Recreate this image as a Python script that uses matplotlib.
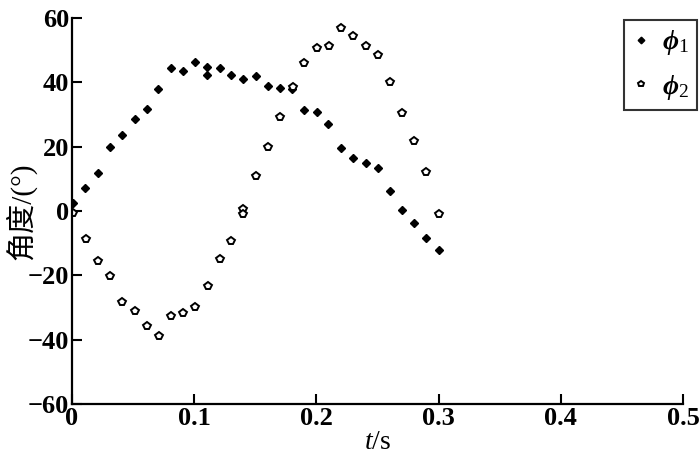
import matplotlib
matplotlib.use("Agg")
import matplotlib.pyplot as plt

plt.rcParams['font.family'] = ['Liberation Serif', 'Noto Sans CJK SC', 'DejaVu Sans']
plt.rcParams['mathtext.fontset'] = 'custom'
plt.rcParams['mathtext.rm'] = 'Liberation Serif'
plt.rcParams['mathtext.it'] = 'Liberation Serif:italic'
plt.rcParams['mathtext.bf'] = 'Liberation Serif:bold:italic'

# data
t1 = [0.0008, 0.0108, 0.0213, 0.0310, 0.0410, 0.0512, 0.0610, 0.0707, 0.0807, 0.0908,
      0.1009, 0.1107, 0.1107, 0.1210, 0.1302, 0.1400, 0.1506, 0.1607, 0.1703, 0.1803,
      0.1900, 0.2005, 0.2095, 0.2200, 0.2300, 0.2406, 0.2504, 0.2603, 0.2700, 0.2800,
      0.2900, 0.3003]
phi1 = [2.6, 7.0, 11.9, 20.0, 23.7, 28.6, 31.6, 38.0, 44.4, 43.6,
        46.2, 44.9, 42.3, 44.6, 42.4, 41.0, 42.0, 38.9, 38.3, 38.0,
        31.4, 30.8, 27.1, 19.6, 16.5, 14.9, 13.4, 6.2, 0.3, -3.7,
        -8.4, -12.1]

t2 = [0.0008, 0.0115, 0.0213, 0.0314, 0.0410, 0.0513, 0.0610, 0.0710, 0.0807, 0.0908,
      0.1009, 0.1110, 0.1210, 0.1302, 0.1400, 0.1400, 0.1506, 0.1607, 0.1703, 0.1806,
      0.1902, 0.2003, 0.2101, 0.2202, 0.2303, 0.2403, 0.2501, 0.2602, 0.2700, 0.2798,
      0.2897, 0.3001]
phi2 = [-0.7, -8.8, -15.6, -20.1, -28.4, -31.2, -35.7, -38.8, -32.5, -31.6,
        -29.9, -23.3, -15.0, -9.2, 0.5, -1.0, 10.8, 20.0, 29.3, 38.6,
        46.1, 50.6, 51.3, 56.8, 54.4, 51.4, 48.5, 40.1, 30.4, 21.7,
        12.1, -0.9]

xticks = [0, 0.1, 0.2, 0.3, 0.4, 0.5]
xticklabels = ['0', '0.1', '0.2', '0.3', '0.4', '0.5']
yticks = [-60, -40, -20, 0, 20, 40, 60]
yticklabels = ['\u221260', '\u221240', '\u221220', '0', '20', '40', '60']

fig = plt.figure(figsize=(7.0, 4.59), dpi=100)
ax = fig.add_axes([0.1029, 0.1198, 0.8728, 0.8410])

ax.plot(t1, phi1, linestyle='none', marker='D', markersize=4.2,
        color='black', markeredgecolor='black', label=r'$\mathbf{\phi}_{\mathrm{1}}$')
ax.plot(t2, phi2, linestyle='none', marker='p', markersize=5.5,
        markerfacecolor='white', markeredgecolor='black', markeredgewidth=1.4,
        label=r'$\mathbf{\phi}_{\mathrm{2}}$')

ax.set_xlim(0, 0.5)
ax.set_ylim(-60, 60)
ax.set_xticks(xticks)
ax.set_xticklabels(xticklabels, fontweight='bold')
ax.set_yticks(yticks)
ax.set_yticklabels(yticklabels, fontweight='bold')

for s in ['top', 'right']:
    ax.spines[s].set_visible(False)
for s in ['left', 'bottom']:
    ax.spines[s].set_linewidth(1.6)
    ax.spines[s].set_color('black')

ax.tick_params(direction='in', length=7, width=1.5, labelsize=19, pad=2, colors='black')
ax.set_xlabel(r'$\mathit{t}$/s', fontsize=20, labelpad=0)
ax.set_ylabel('角度/(°)', fontsize=21)
ax.yaxis.set_label_coords(-0.058, 0.5)

leg = ax.legend(loc='upper right', bbox_to_anchor=(697 / 700, 1 - 20 / 459),
                bbox_transform=fig.transFigure, borderaxespad=0, fontsize=20,
                frameon=True, fancybox=False, edgecolor='black', handlelength=0.6,
                handletextpad=0.45, borderpad=0.3, labelspacing=0.55, markerscale=0.8)
leg.get_frame().set_linewidth(1.5)

fig.savefig('out.png', dpi=100)
